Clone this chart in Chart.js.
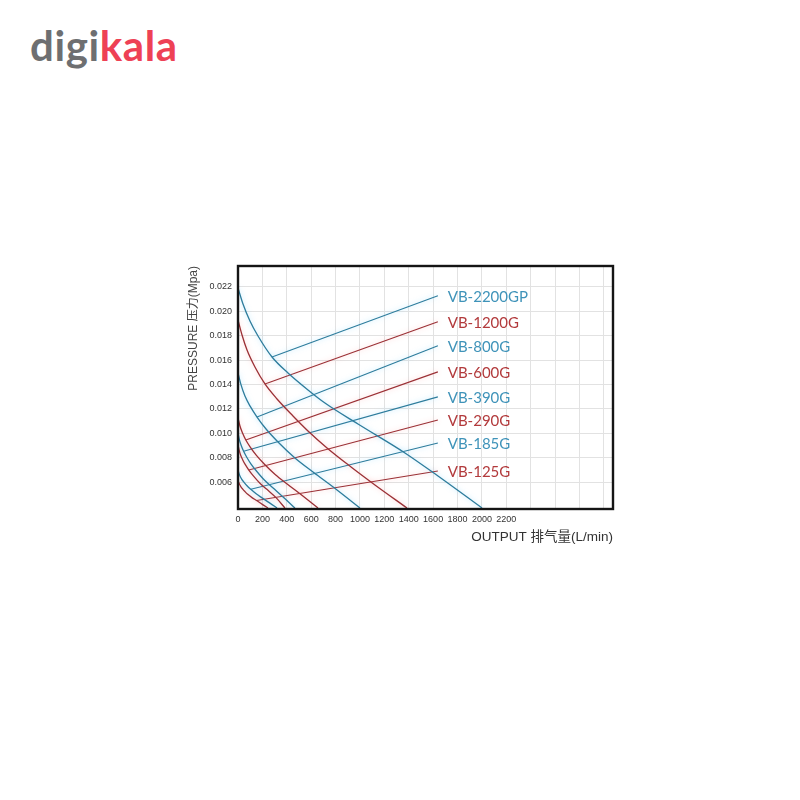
<!DOCTYPE html>
<html><head><meta charset="utf-8">
<style>
html,body{margin:0;padding:0;background:#fff;}
#wrap{position:relative;width:800px;height:800px;background:#fff;overflow:hidden;}
#logo{position:absolute;left:30px;top:20px;font-family:Lato,'Open Sans',sans-serif;font-weight:700;font-size:42px;letter-spacing:0.6px;line-height:1.2;white-space:nowrap;}
canvas{position:absolute;left:0;top:0;}
</style>
<script src="https://cdn.jsdelivr.net/npm/chart.js@4/dist/chart.umd.min.js"></script>
</head><body>
<div id="wrap"><div id="logo"><span style="color:#6e6f71">digi</span><span style="color:#ee4155">kala</span></div>
<canvas id="c" width="800" height="800"></canvas></div>
<script>
// ---- data (x: output L/min, y: pressure MPa) ----
const seriesNames = ['VB-2200GP','VB-1200G','VB-800G','VB-600G','VB-390G','VB-290G','VB-185G','VB-125G'];

const x2200GP = [0, 41, 98, 164, 279, 410, 574, 713, 984, 1369, 1640, 2001];
const y2200GP = [0.02190, 0.02059, 0.01920, 0.01797, 0.01625, 0.01494, 0.01355, 0.01248, 0.01076, 0.00839, 0.00650, 0.00388];
const x1200G = [0, 33, 74, 139, 221, 320, 451, 574, 730, 927, 1123, 1386];
const y1200G = [0.01928, 0.01805, 0.01682, 0.01543, 0.01404, 0.01281, 0.01142, 0.01019, 0.00880, 0.00724, 0.00577, 0.00388];
const x800G = [0, 25, 57, 98, 156, 230, 328, 467, 615, 812, 1000];
const y800G = [0.01494, 0.01396, 0.01305, 0.01224, 0.01133, 0.01035, 0.00929, 0.00798, 0.00683, 0.00536, 0.00388];
const x600G = [0, 16, 38, 64, 102, 151, 215, 307, 403, 532, 656];
const y600G = [0.01125, 0.01060, 0.01000, 0.00945, 0.00885, 0.00819, 0.00749, 0.00661, 0.00585, 0.00486, 0.00388];
const x390G = [0, 11, 27, 46, 73, 107, 153, 218, 288, 379, 467];
const y390G = [0.01002, 0.00948, 0.00898, 0.00853, 0.00802, 0.00748, 0.00689, 0.00615, 0.00552, 0.00470, 0.00388];
const x290G = [0, 10, 22, 38, 60, 89, 126, 180, 237, 312, 385];
const y290G = [0.00904, 0.00860, 0.00820, 0.00784, 0.00743, 0.00699, 0.00651, 0.00591, 0.00541, 0.00473, 0.00388];
const x185G = [0, 8, 18, 31, 50, 74, 105, 149, 197, 259, 320];
const y185G = [0.00699, 0.00672, 0.00646, 0.00623, 0.00598, 0.00570, 0.00541, 0.00504, 0.00471, 0.00430, 0.00388];
const x125G = [0, 6, 14, 24, 39, 57, 80, 115, 152, 199, 246];
const y125G = [0.00618, 0.00597, 0.00578, 0.00562, 0.00543, 0.00523, 0.00500, 0.00473, 0.00450, 0.00418, 0.00388];

// leader lines: start on the curve -> end next to the label
const leaderStartX = [279, 221, 156, 64, 46, 89, 105, 152];
const leaderStartY = [0.01625, 0.01404, 0.01133, 0.00945, 0.00853, 0.00699, 0.00541, 0.00450];
const leaderEndX = 1639;
const leaderEndY = [0.02126, 0.01913, 0.01716, 0.01503, 0.01298, 0.01109, 0.00920, 0.00691];
const labelX = 1720;

const xTickValues = [0,200,400,600,800,1000,1200,1400,1600,1800,2000,2200,2400,2600,2800,3000];
const xLabelMax = 2200;
const yTickValues = [0.006,0.008,0.010,0.012,0.014,0.016,0.018,0.020,0.022];

// ---- build ----
const curveX = [x2200GP,x1200G,x800G,x600G,x390G,x290G,x185G,x125G];
const curveY = [y2200GP,y1200G,y800G,y600G,y390G,y290G,y185G,y125G];
const lineBlue = '#2d7c9c', lineRed = '#9b3035';
const textBlue = '#3f93b9', textRed = '#b23a3c';
const glowBlue = 'rgba(110,205,255,0.55)', glowRed = 'rgba(255,140,140,0.45)';

const datasets = [];
seriesNames.forEach((n,i)=>{
  const blue = i % 2 === 0;
  datasets.push({
    label: n,
    data: curveX[i].map((x,j)=>({x, y: curveY[i][j]})),
    borderColor: blue ? lineBlue : lineRed,
    borderWidth: 1.3,
    pointRadius: 0,
    cubicInterpolationMode: 'monotone',
    fill: false,
    glow: blue ? glowBlue : glowRed
  });
  datasets.push({
    label: n + ' leader',
    data: [{x: leaderStartX[i], y: leaderStartY[i]}, {x: leaderEndX, y: leaderEndY[i]}],
    borderColor: blue ? lineBlue : lineRed,
    borderWidth: 1.1,
    pointRadius: 0,
    tension: 0,
    fill: false,
    glow: blue ? glowBlue : glowRed
  });
});

const glowPlugin = {
  id: 'glow',
  beforeDatasetDraw(chart, args){
    const ds = chart.data.datasets[args.index];
    chart.ctx.save();
    chart.ctx.shadowColor = ds.glow;
    chart.ctx.shadowBlur = 5;
  },
  afterDatasetDraw(chart){ chart.ctx.restore(); }
};

const labelPlugin = {
  id: 'seriesLabels',
  afterDatasetsDraw(chart){
    const {ctx, scales:{x, y}} = chart;
    ctx.save();
    ctx.font = '15px Lato, "Open Sans", sans-serif';
    ctx.textBaseline = 'middle';
    ctx.textAlign = 'left';
    seriesNames.forEach((n,i)=>{
      ctx.fillStyle = i % 2 === 0 ? textBlue : textRed;
      ctx.fillText(n, x.getPixelForValue(labelX), y.getPixelForValue(leaderEndY[i]) + 1);
    });
    ctx.restore();
  }
};

const borderPlugin = {
  id: 'frame',
  afterDraw(chart){
    const {ctx, chartArea:a} = chart;
    ctx.save();
    ctx.strokeStyle = '#151515';
    ctx.lineWidth = 2.4;
    ctx.strokeRect(a.left, a.top, a.right - a.left, a.bottom - a.top);
    ctx.restore();
  }
};

new Chart(document.getElementById('c'), {
  type: 'line',
  data: { datasets },
  options: {
    responsive: false,
    animation: false,
    layout: { padding: { left: 186, top: 266, right: 187, bottom: 250 } },
    plugins: { legend: { display: false }, tooltip: { enabled: false } },
    scales: {
      x: {
        type: 'linear', min: 0, max: 3075,
        afterBuildTicks: s => { s.ticks = xTickValues.map(v => ({value: v})); },
        afterFit: s => { s.height = 41; },
        grid: { color: '#e2e2e2', lineWidth: 1, drawTicks: false },
        border: { display: false },
        ticks: {
          autoSkip: false, maxRotation: 0, padding: 5,
          color: '#333', font: { family: '"Liberation Sans", Arial, sans-serif', size: 9 },
          callback: v => v <= xLabelMax ? String(v) : ''
        },
        title: {
          display: true, text: 'OUTPUT 排气量(L/min)', align: 'end',
          color: '#333', padding: { top: 0, bottom: 5 },
          font: { family: '"Liberation Sans", "Noto Sans CJK SC", sans-serif', size: 13.5 }
        }
      },
      y: {
        type: 'linear', min: 0.0038, max: 0.0237,
        afterBuildTicks: s => { s.ticks = yTickValues.map(v => ({value: v})); },
        afterFit: s => { s.width = 52; },
        grid: { color: '#e2e2e2', lineWidth: 1, drawTicks: false },
        border: { display: false },
        ticks: {
          padding: 6, color: '#333',
          font: { family: '"Liberation Sans", Arial, sans-serif', size: 9 },
          callback: v => v.toFixed(3)
        },
        title: {
          display: true, text: 'PRESSURE 压力(Mpa)', align: 'end',
          color: '#444', padding: { top: 0, bottom: 0 },
          font: { family: '"Liberation Sans", "Noto Sans CJK SC", sans-serif', size: 12 }
        }
      }
    }
  },
  plugins: [glowPlugin, labelPlugin, borderPlugin]
});
</script>
</body></html>
